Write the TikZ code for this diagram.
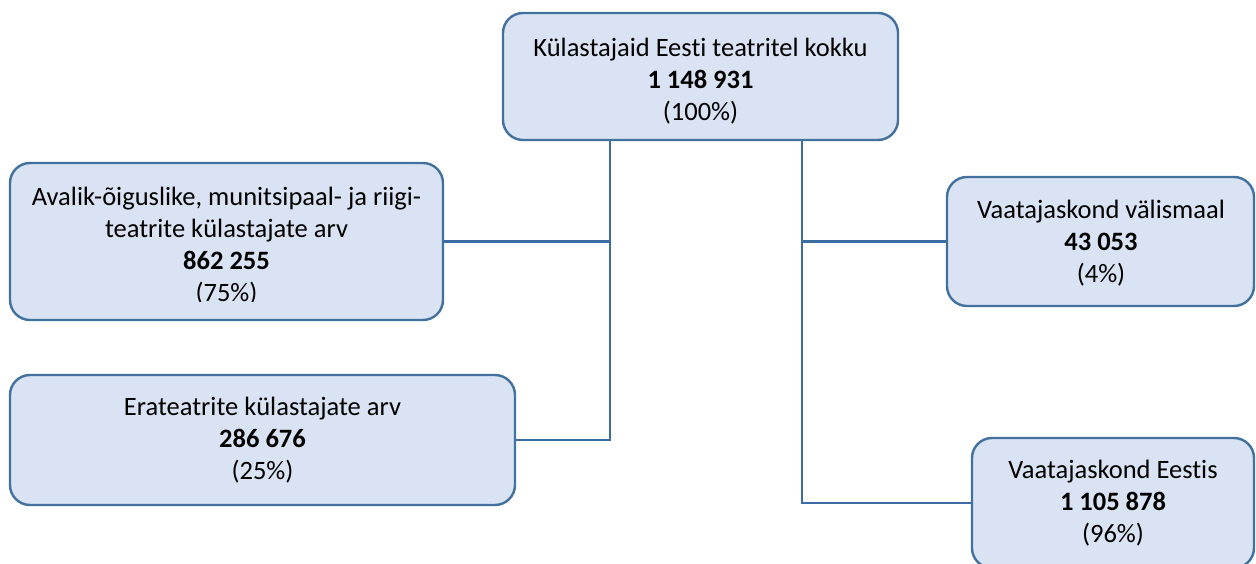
\documentclass[tikz,border=0pt]{standalone}
\usepackage{fontspec}
\setmainfont{Carlito}[Ligatures=NoCommon]
\definecolor{boxfill}{HTML}{DAE3F3}
\definecolor{boxline}{HTML}{41719C}
\definecolor{connline}{HTML}{3B6CA3}
\begin{document}
\begin{tikzpicture}[x=1pt,y=-1pt,
  box/.style={draw=boxline,fill=boxfill,line width=2.4pt,rounded corners=20pt,inner sep=0pt},
  txt/.style={align=center,font=\fontsize{26.5}{32}\selectfont,inner sep=0pt},
  conn/.style={draw=connline,line width=2.4pt}]
\useasboundingbox (0,0) rectangle (1256,564);
\clip (0,0) rectangle (1256,564);
% boxes
\node[box,minimum width=395pt,minimum height=127pt] (top) at (700.5,76.5) {};
\node[txt] (topt) at (700.5,81) {Külastajaid Eesti teatritel kokku\\\textbf{1 148 931}\\(100\%)};
\node[box,minimum width=433pt,minimum height=157pt] (left1) at (226.5,241.5) {};
\begin{scope}
\clip (10,163) rectangle (443,301);
\node[txt] (left1t) at (226.5,246) {Avalik-õiguslike, munitsipaal- ja riigi-\\teatrite külastajate arv\\\textbf{862 255}\\(75\%)};
\end{scope}
\node[box,minimum width=505pt,minimum height=130pt] (left2) at (262.5,440) {};
\node[txt] (left2t) at (262.5,440) {Erateatrite külastajate arv\\\textbf{286 676}\\(25\%)};
\node[box,minimum width=307pt,minimum height=129pt] (right1) at (1100.5,241.5) {};
\node[txt] (right1t) at (1101,243) {Vaatajaskond välismaal\\\textbf{43 053}\\(4\%)};
\node[box,minimum width=282pt,minimum height=130pt] (right2) at (1113,503) {};
\node[txt] (right2t) at (1113,503) {Vaatajaskond Eestis\\\textbf{1 105 878}\\(96\%)};
% junction coordinates
\coordinate (jl) at (610,0);
\coordinate (jr) at (802,0);
% connectors
\draw[conn] (top.south -| jl) |- (left2.east);
\draw[conn] (left1.east) -- (left1.east -| jl);
\draw[conn] (top.south -| jr) |- (right2.west);
\draw[conn] (right1.west) -- (right1.west -| jr);
\end{tikzpicture}
\end{document}
